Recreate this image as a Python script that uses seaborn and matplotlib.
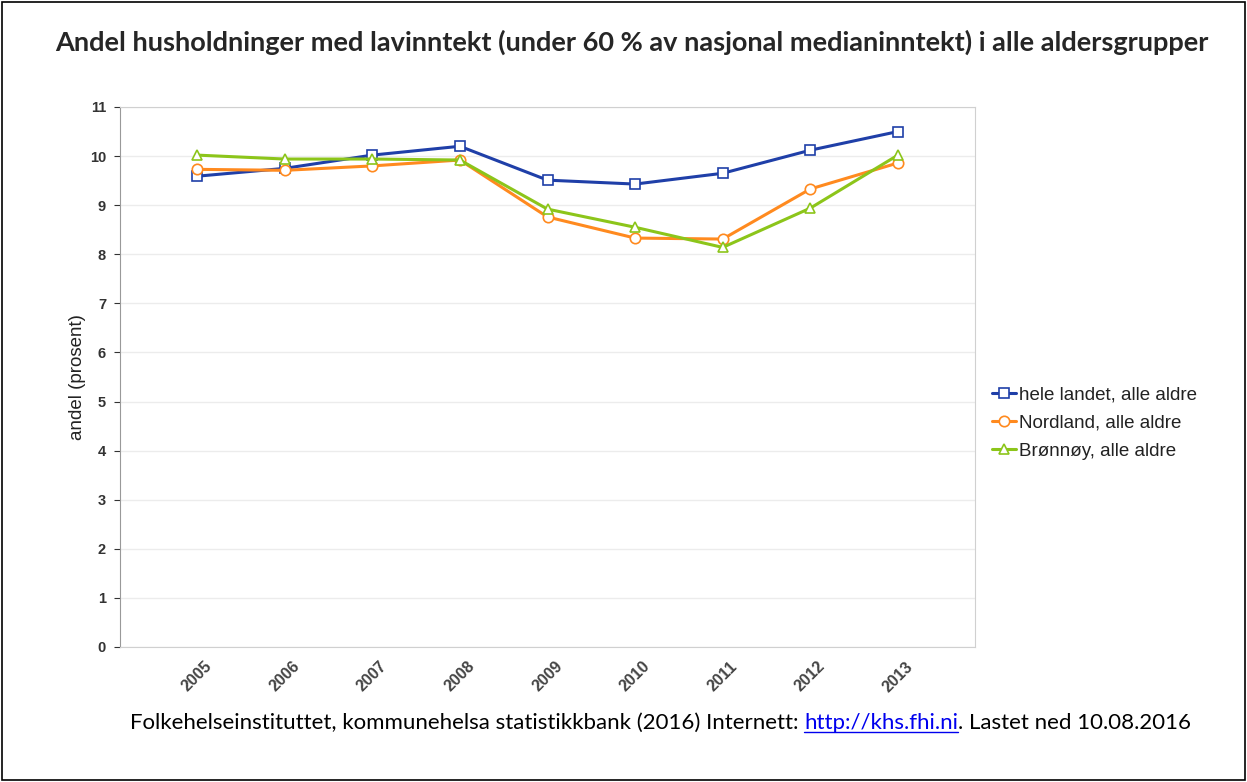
import matplotlib
matplotlib.use("Agg")
import matplotlib.pyplot as plt
import seaborn as sns
import pandas as pd

# data
years = [2005, 2006, 2007, 2008, 2009, 2010, 2011, 2012, 2013]
hele_landet = [9.59, 9.75, 10.02, 10.2, 9.51, 9.43, 9.65, 10.12, 10.5]
nordland = [9.73, 9.71, 9.8, 9.92, 8.76, 8.33, 8.31, 9.33, 9.86]
bronnoy = [10.02, 9.94, 9.94, 9.92, 8.92, 8.55, 8.14, 8.94, 10.02]

series_names = ["hele landet, alle aldre", "Nordland, alle aldre", "Brønnøy, alle aldre"]
series_values = [hele_landet, nordland, bronnoy]
colors = ["#1f3fa8", "#ff8a1f", "#8cc51a"]
markers = ["s", "o", "^"]

title = "Andel husholdninger med lavinntekt (under 60 % av nasjonal medianinntekt) i alle aldersgrupper"
ylabel = "andel (prosent)"

sns.set_style("white")
plt.rcParams["font.family"] = ["Liberation Sans", "DejaVu Sans"]

fig = plt.figure(figsize=(12.47, 7.82), dpi=100)
ax = fig.add_axes([120 / 1247, 1 - 647 / 782, 855 / 1247, 540 / 782])

for name, vals, col, mk in zip(series_names, series_values, colors, markers):
    df = pd.DataFrame({"year": years, "value": vals})
    sns.lineplot(data=df, x="year", y="value", ax=ax, color=col, marker=mk,
                 markersize=7.5, markerfacecolor="white", markeredgecolor=col,
                 markeredgewidth=1.2, linewidth=2.2, label=name)

ax.set_xlim(2004.12, 2013.88)
ax.set_ylim(0, 11)
ax.set_yticks(range(0, 12))
ax.set_xticks(years)
ax.set_xticklabels([str(y) for y in years], rotation=45, ha="center",
                   fontsize=11.5, color="#444444", fontweight="bold")
for lbl in ax.get_yticklabels():
    lbl.set_fontweight("bold")
ax.tick_params(axis="y", labelsize=10.5, colors="#333333", length=4, width=0.8,
               left=True, direction="out", pad=6)
ax.tick_params(axis="x", bottom=False, pad=5)
ax.yaxis.grid(True, color="#ececec", linewidth=1)
ax.set_xlabel("")
ax.set_ylabel(ylabel, fontsize=13.5, color="#222222", labelpad=3)
for s in ["top", "right", "bottom"]:
    ax.spines[s].set_color("#d0d0d0")
ax.spines["left"].set_color("#999999")

handles, labels = ax.get_legend_handles_labels()
ax.legend(handles, labels, loc="center left", bbox_to_anchor=(1.0, 0.415),
          frameon=False, fontsize=13.5, handlelength=1.3, handletextpad=0.15,
          labelspacing=0.6, labelcolor="#222222")

fig.text(632 / 1247, 1 - 42 / 782, title, ha="center", va="center",
         fontsize=19.5, fontweight="bold", family=["Lato", "DejaVu Sans"])

# footer with a link-styled part
renderer = fig.canvas.get_renderer()
fy = 1 - 723 / 782
parts = [("Folkehelseinstituttet, kommunehelsa statistikkbank (2016) Internett: ", "black", False),
         ("http://khs.fhi.ni", "#0000ee", True),
         (". Lastet ned 10.08.2016", "black", False)]
xpix = 130
for txt, col, link in parts:
    t = fig.text(xpix / 1247, fy, txt, ha="left", va="center", fontsize=16,
                 color=col, family=["Lato", "DejaVu Sans"])
    bb = t.get_window_extent(renderer)
    if link:
        fig.add_artist(plt.Line2D([bb.x0 / 1247, bb.x1 / 1247],
                                  [(bb.y0 + 1) / 782, (bb.y0 + 1) / 782],
                                  color=col, linewidth=1))
    xpix = bb.x1

# outer frame
fig.add_artist(plt.Rectangle((2 / 1247, 2 / 782), 1243 / 1247, 778 / 782,
                             fill=False, edgecolor="black", linewidth=1.2,
                             transform=fig.transFigure))

fig.savefig("out.png", dpi=100)
